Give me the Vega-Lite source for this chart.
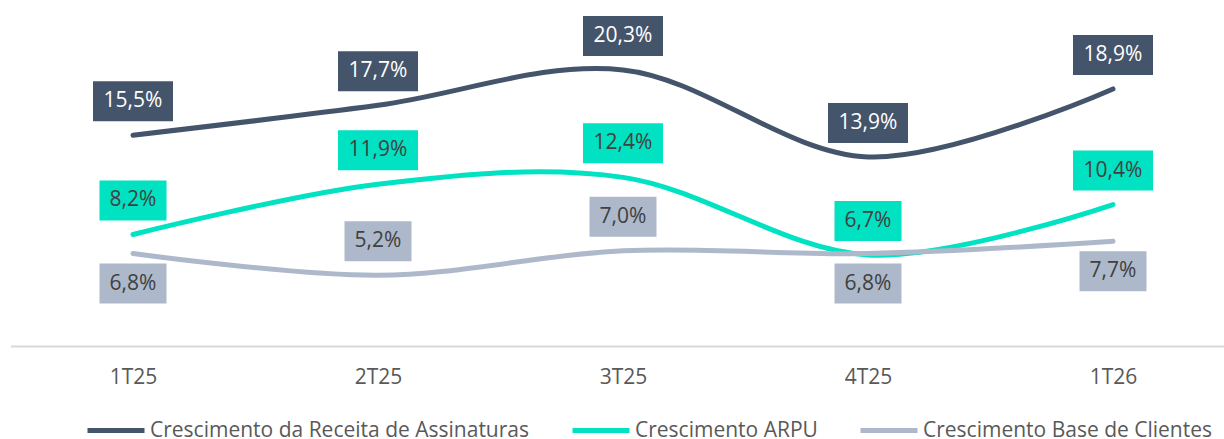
{
  "$schema": "https://vega.github.io/schema/vega-lite/v6.json",
  "width": 1225,
  "height": 340,
  "autosize": {"type": "none"},
  "padding": {"left": 10.5, "top": 6, "right": 0, "bottom": 93},
  "background": "white",
  "config": {"view": {"stroke": null}, "font": "Open Sans"},
  "data": {
    "values": [
      {"series": "Crescimento da Receita de Assinaturas", "quarter": "1T25", "value": 15.5},
      {"series": "Crescimento da Receita de Assinaturas", "quarter": "2T25", "value": 17.7},
      {"series": "Crescimento da Receita de Assinaturas", "quarter": "3T25", "value": 20.3},
      {"series": "Crescimento da Receita de Assinaturas", "quarter": "4T25", "value": 13.9},
      {"series": "Crescimento da Receita de Assinaturas", "quarter": "1T26", "value": 18.9},
      {"series": "Crescimento ARPU", "quarter": "1T25", "value": 8.2},
      {"series": "Crescimento ARPU", "quarter": "2T25", "value": 11.9},
      {"series": "Crescimento ARPU", "quarter": "3T25", "value": 12.4},
      {"series": "Crescimento ARPU", "quarter": "4T25", "value": 6.7},
      {"series": "Crescimento ARPU", "quarter": "1T26", "value": 10.4},
      {"series": "Crescimento Base de Clientes", "quarter": "1T25", "value": 6.8},
      {"series": "Crescimento Base de Clientes", "quarter": "2T25", "value": 5.2},
      {"series": "Crescimento Base de Clientes", "quarter": "3T25", "value": 7.0},
      {"series": "Crescimento Base de Clientes", "quarter": "4T25", "value": 6.8},
      {"series": "Crescimento Base de Clientes", "quarter": "1T26", "value": 7.7}
    ]
  },
  "transform": [
    {"calculate": "replace(format(datum.value, '.1f'), '.', ',') + '%'", "as": "label"}
  ],
  "encoding": {
    "x": {
      "field": "quarter",
      "type": "ordinal",
      "sort": ["1T25", "2T25", "3T25", "4T25", "1T26"],
      "scale": {"type": "point", "padding": 0.5},
      "axis": {
        "title": null,
        "ticks": false,
        "grid": false,
        "labelAngle": 0,
        "domainColor": "#d9d9d9",
        "domainWidth": 2,
        "labelFontSize": 21,
        "labelFont": "Open Sans",
        "labelColor": "#595959",
        "labelPadding": 20
      }
    },
    "y": {
      "field": "value",
      "type": "quantitative",
      "scale": {"domain": [0, 25]},
      "axis": null
    }
  },
  "layer": [
    {
      "mark": {"type": "line", "interpolate": "cardinal", "strokeWidth": 5, "strokeCap": "round"},
      "encoding": {
        "color": {
          "field": "series",
          "type": "nominal",
          "scale": {
            "domain": ["Crescimento da Receita de Assinaturas", "Crescimento ARPU", "Crescimento Base de Clientes"],
            "range": ["#44546A", "#00E2C2", "#ADB9CA"]
          },
          "legend": {
            "orient": "none",
            "legendX": 74.5,
            "legendY": 393.5,
            "padding": 0,
            "direction": "horizontal",
            "title": null,
            "symbolType": "stroke",
            "symbolStrokeWidth": 5,
            "symbolSize": 3249,
            "labelFontSize": 21,
            "labelFont": "Open Sans",
            "labelColor": "#595959",
            "labelOffset": 3,
            "columnPadding": 32,
            "labelLimit": 600
          }
        }
      }
    },
    {
      "transform": [{"filter": "!(datum.series == 'Crescimento Base de Clientes' && datum.quarter != '2T25' && datum.quarter != '3T25')"}],
      "mark": {"type": "point", "filled": true, "size": 6400, "strokeWidth": 0, "opacity": 1, "yOffset": -34},
      "encoding": {
        "shape": {"condition": {"test": "datum.value >= 10", "value": "M-1,-0.5H1V0.5H-1Z"}, "value": "M-0.8375,-0.5H0.8375V0.5H-0.8375Z"},
        "fill": {
          "condition": [
            {"test": "datum.series == 'Crescimento da Receita de Assinaturas'", "value": "#44546A"},
            {"test": "datum.series == 'Crescimento ARPU'", "value": "#00E2C2"}
          ],
          "value": "#ADB9CA"
        }
      }
    },
    {
      "transform": [{"filter": "datum.series == 'Crescimento Base de Clientes' && datum.quarter != '2T25' && datum.quarter != '3T25'"}],
      "mark": {"type": "point", "filled": true, "size": 6400, "strokeWidth": 0, "opacity": 1, "yOffset": 30},
      "encoding": {
        "shape": {"condition": {"test": "datum.value >= 10", "value": "M-1,-0.5H1V0.5H-1Z"}, "value": "M-0.8375,-0.5H0.8375V0.5H-0.8375Z"},
        "fill": {"value": "#ADB9CA"}
      }
    },
    {
      "transform": [{"filter": "!(datum.series == 'Crescimento Base de Clientes' && datum.quarter != '2T25' && datum.quarter != '3T25')"}],
      "mark": {"type": "text", "fontSize": 21, "font": "Open Sans", "yOffset": -34, "baseline": "middle", "align": "center"},
      "encoding": {
        "text": {"field": "label", "type": "nominal"},
        "color": {"condition": {"test": "datum.series == 'Crescimento da Receita de Assinaturas'", "value": "#ffffff"}, "value": "#404040"}
      }
    },
    {
      "transform": [{"filter": "datum.series == 'Crescimento Base de Clientes' && datum.quarter != '2T25' && datum.quarter != '3T25'"}],
      "mark": {"type": "text", "fontSize": 21, "font": "Open Sans", "yOffset": 30, "baseline": "middle", "align": "center"},
      "encoding": {
        "text": {"field": "label", "type": "nominal"},
        "color": {"value": "#404040"}
      }
    }
  ]
}
